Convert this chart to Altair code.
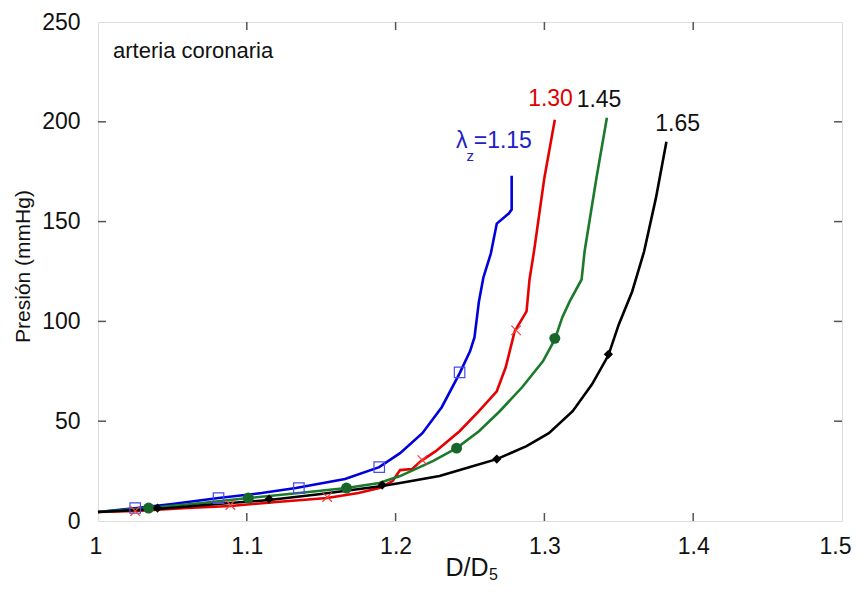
import altair as alt
import pandas as pd

# ---- data ----
blue_x = [1.000, 1.026, 1.050, 1.081, 1.110, 1.133, 1.166, 1.189, 1.203, 1.218, 1.231, 1.243, 1.250, 1.253, 1.256, 1.259, 1.264, 1.268, 1.276, 1.278, 1.278]
blue_y = [4.5, 6.5, 8.5, 11.5, 14, 16.5, 21, 27, 34, 44, 57, 74, 85, 92, 110, 122, 134, 149, 154, 156, 173]

red_x = [1.000, 1.026, 1.060, 1.089, 1.120, 1.154, 1.175, 1.189, 1.198, 1.203, 1.211, 1.217, 1.227, 1.243, 1.256, 1.268, 1.274, 1.280, 1.288, 1.290, 1.293, 1.300, 1.307]
red_y = [4.5, 5, 6.5, 7.5, 9.5, 11.5, 14, 16.5, 20, 25.5, 26, 30, 35, 45, 55, 65, 77, 95, 105, 121, 135, 172, 201]

green_x = [1.000, 1.034, 1.070, 1.101, 1.135, 1.167, 1.189, 1.203, 1.225, 1.241, 1.256, 1.270, 1.285, 1.299, 1.307, 1.312, 1.317, 1.325, 1.327, 1.335, 1.342]
green_y = [4.5, 6.5, 9, 11.5, 14, 16.5, 19, 22.5, 30, 36.5, 45, 55, 67, 80, 91, 102, 110, 121, 135, 172, 202]

black_x = [1.000, 1.040, 1.080, 1.115, 1.150, 1.191, 1.203, 1.2295, 1.250, 1.268, 1.288, 1.303, 1.319, 1.332, 1.343, 1.350, 1.359, 1.367, 1.375, 1.382]
black_y = [4.5, 6, 8.5, 10.5, 13.5, 17.5, 19, 22.5, 27, 31, 37.5, 44, 55, 68.5, 83, 98.5, 115, 135, 162, 190]

blue_mx = [1.025, 1.081, 1.135, 1.189, 1.243]
blue_my = [6.5, 11.5, 16.5, 27, 74.5]
red_mx = [1.025, 1.089, 1.154, 1.218, 1.281]
red_my = [5, 8, 12, 30.5, 95.5]
green_mx = [1.034, 1.101, 1.167, 1.241, 1.307]
green_my = [6.5, 11.5, 16.5, 36.5, 91.5]
black_mx = [1.040, 1.115, 1.191, 1.268, 1.343]
black_my = [6.5, 11, 18, 31, 83.5]

x_ticks = [1.0, 1.1, 1.2, 1.3, 1.4, 1.5]
y_ticks = [0, 50, 100, 150, 200, 250]
x_inner = [1.1, 1.2, 1.3, 1.4]
y_inner = [50, 100, 150, 200]

labels_text = ["1.30", "1.45", "1.65"]
labels_x = [1.3041, 1.3367, 1.3895]
labels_y = [211.4, 210.7, 199.1]
labels_color = ["#E00000", "#111111", "#111111"]

W, H = 744, 499
FONT = "Liberation Sans"
FS = 22
TFS = 23

xs = alt.Scale(domain=[1.0, 1.5], nice=False, zero=False)
ys = alt.Scale(domain=[0, 250], nice=False)


def line_layer(xv, yv, color):
    df = pd.DataFrame({"x": xv, "y": yv, "o": list(range(len(xv)))})
    return alt.Chart(df).mark_line(color=color, strokeWidth=2.6).encode(
        x=alt.X("x:Q", scale=xs), y=alt.Y("y:Q", scale=ys), order="o:Q")


def marker_layer(xv, yv, **kw):
    df = pd.DataFrame({"x": xv, "y": yv})
    return alt.Chart(df).mark_point(**kw).encode(
        x=alt.X("x:Q", scale=xs), y=alt.Y("y:Q", scale=ys))


# base with axes
base_df = pd.DataFrame({"x": [1.0], "y": [0]})
base = alt.Chart(base_df).mark_point(opacity=0).encode(
    x=alt.X("x:Q", scale=xs, axis=alt.Axis(
        values=x_ticks, format="~g", ticks=False, tickSize=0, domain=False, grid=False,
        labelFontSize=TFS, labelPadding=14, labelColor="#111",
        labelFlush=True, labelFlushOffset=9,
        title="D/D", titleFontSize=25, titleFontWeight="normal", titleColor="#111",
        titleX=390, titleY=54, titleBaseline="alphabetic", titleAlign="right")),
    y=alt.Y("y:Q", scale=ys, axis=alt.Axis(
        values=y_ticks, format="d", ticks=False, tickSize=0, domain=False, grid=False,
        labelFontSize=TFS, labelPadding=18, labelColor="#111",
        title="Presión (mmHg)", titleFontSize=FS - 1, titleFontWeight="normal", titleColor="#111",
        titleX=-75, titleY=244, titleBaseline="middle", titleAngle=-90, titleAlign="center")),
)

# inner ticks
tick_color = "#555555"
xt = pd.DataFrame({"v": x_inner})
yt = pd.DataFrame({"v": y_inner})
xt_bottom = alt.Chart(xt).mark_rule(color=tick_color, strokeWidth=1.5).encode(
    x=alt.X("v:Q", scale=xs), y=alt.value(H), y2=alt.value(H - 8))
xt_top = alt.Chart(xt).mark_rule(color=tick_color, strokeWidth=1.5).encode(
    x=alt.X("v:Q", scale=xs), y=alt.value(0), y2=alt.value(8))
yt_left = alt.Chart(yt).mark_rule(color=tick_color, strokeWidth=1.5).encode(
    y=alt.Y("v:Q", scale=ys), x=alt.value(0), x2=alt.value(8))
yt_right = alt.Chart(yt).mark_rule(color=tick_color, strokeWidth=1.5).encode(
    y=alt.Y("v:Q", scale=ys), x=alt.value(W), x2=alt.value(W - 8))

BLUE, RED, GREEN, BLACK = "#0000DD", "#E60000", "#1B7A2B", "#000000"

lines = [line_layer(blue_x, blue_y, BLUE), line_layer(red_x, red_y, RED),
         line_layer(green_x, green_y, GREEN), line_layer(black_x, black_y, BLACK)]

markers = [
    marker_layer(blue_mx, blue_my, shape="square", size=110, filled=False,
                 color="#4A4AE6", strokeWidth=1.2, opacity=1),
    marker_layer(red_mx, red_my, shape="M-1,-1L1,1M1,-1L-1,1", size=90, filled=False,
                 color="#F04040", strokeWidth=1.2, opacity=1),
    marker_layer(green_mx, green_my, shape="circle", size=120, filled=True,
                 color="#17662A", opacity=1),
    marker_layer(black_mx, black_my, shape="diamond", size=85, filled=True,
                 color="#000000", opacity=1),
]

# curve labels
lab_df = pd.DataFrame({"t": labels_text, "x": labels_x, "y": labels_y, "c": labels_color})
labels = alt.Chart(lab_df).mark_text(fontSize=TFS, font=FONT, baseline="middle", align="center").encode(
    x=alt.X("x:Q", scale=xs), y=alt.Y("y:Q", scale=ys), text="t:N",
    color=alt.Color("c:N", scale=None))

lam_df = pd.DataFrame({"t": ["λ"], "x": [1.2406], "y": [190.6]})
lam = alt.Chart(lam_df).mark_text(fontSize=TFS, font=FONT, baseline="middle", align="left", color="#2020C8").encode(
    x=alt.X("x:Q", scale=xs), y=alt.Y("y:Q", scale=ys), text="t:N")
sub_df = pd.DataFrame({"t": ["z"], "x": [1.2476], "y": [183.0]})
sub = alt.Chart(sub_df).mark_text(fontSize=15, font=FONT, baseline="middle", align="left", color="#2020C8").encode(
    x=alt.X("x:Q", scale=xs), y=alt.Y("y:Q", scale=ys), text="t:N")
eq_df = pd.DataFrame({"t": ["=1.15"], "x": [1.2525], "y": [190.6]})
eq = alt.Chart(eq_df).mark_text(fontSize=TFS, font=FONT, baseline="middle", align="left", color="#2020C8").encode(
    x=alt.X("x:Q", scale=xs), y=alt.Y("y:Q", scale=ys), text="t:N")

ann_df = pd.DataFrame({"t": ["arteria coronaria"], "x": [1.0101], "y": [232]})
ann = alt.Chart(ann_df).mark_text(fontSize=FS, font=FONT, baseline="alphabetic", align="left", color="#111").encode(
    x=alt.X("x:Q", scale=xs), y=alt.Y("y:Q", scale=ys), text="t:N")

# subscript 5 of the x title
s5_df = pd.DataFrame({"t": ["5"]})
s5 = alt.Chart(s5_df).mark_text(fontSize=16, font=FONT, baseline="alphabetic", align="left", color="#111").encode(
    x=alt.value(391), y=alt.value(H + 59), text="t:N")

chart = alt.layer(base, xt_bottom, xt_top, yt_left, yt_right, *lines, *markers,
                  labels, lam, sub, eq, ann, s5).properties(
    width=W, height=H,
    autosize=alt.AutoSizeParams(type="none"),
    padding={"left": 90, "top": 14, "right": 10, "bottom": 64},
).configure_view(stroke="#555555", strokeWidth=1.5).configure(font=FONT)

chart.save("out.html", embed_options={"renderer": "svg", "actions": False})
